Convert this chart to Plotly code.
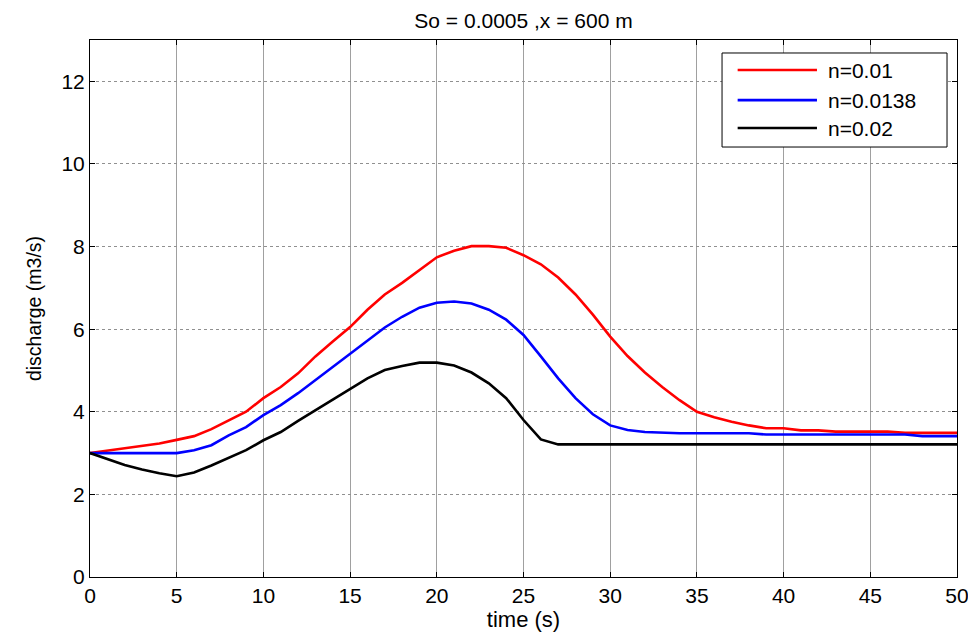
import plotly.graph_objects as go

time = list(range(0, 51))
q_n001 = [3.0, 3.06, 3.12, 3.18, 3.23, 3.32, 3.41, 3.58, 3.78, 4.0,
          4.33, 4.6, 4.93, 5.34, 5.7, 6.05, 6.47, 6.84, 7.12, 7.42,
          7.74, 7.9, 8.01, 8.01, 7.97, 7.79, 7.57, 7.25, 6.84, 6.35,
          5.82, 5.35, 4.95, 4.6, 4.28, 4.0, 3.87, 3.76, 3.67, 3.6,
          3.6, 3.55, 3.55, 3.52, 3.52, 3.52, 3.52, 3.49, 3.49, 3.49, 3.49]
q_n0138 = [3.0, 3.0, 3.0, 3.0, 3.0, 3.0, 3.07, 3.19, 3.43, 3.63,
           3.92, 4.16, 4.45, 4.77, 5.09, 5.42, 5.74, 6.04, 6.3, 6.52,
           6.64, 6.67, 6.62, 6.47, 6.23, 5.86, 5.34, 4.81, 4.33, 3.94,
           3.67, 3.56, 3.51, 3.49, 3.48, 3.48, 3.48, 3.48, 3.48, 3.45,
           3.45, 3.45, 3.45, 3.45, 3.45, 3.45, 3.45, 3.45, 3.41, 3.41, 3.41]
q_n002 = [3.0, 2.85, 2.71, 2.6, 2.51, 2.44, 2.53, 2.7, 2.88, 3.07,
          3.31, 3.51, 3.78, 4.04, 4.31, 4.57, 4.81, 5.01, 5.11, 5.19,
          5.19, 5.12, 4.95, 4.69, 4.33, 3.8, 3.33, 3.21, 3.21, 3.21,
          3.21, 3.21, 3.21, 3.21, 3.21, 3.21, 3.21, 3.21, 3.21, 3.21,
          3.21, 3.21, 3.21, 3.21, 3.21, 3.21, 3.21, 3.21, 3.21, 3.21, 3.21]

series_names = ["n=0.01", "n=0.0138", "n=0.02"]
series_colors = ["#ff0000", "#0000ff", "#000000"]
x_ticks = list(range(0, 51, 5))
y_ticks = list(range(0, 13, 2))

font = "Liberation Sans, Arial, sans-serif"
W, H = 968, 629

fig = go.Figure()
for name, vals, col in zip(series_names, [q_n001, q_n0138, q_n002], series_colors):
    fig.add_trace(go.Scatter(x=time, y=vals, mode="lines", name=name,
                             line=dict(color=col, width=2.6), showlegend=False))

# manual MATLAB-style legend box
leg_x0, leg_x1, leg_y0, leg_y1 = 0.729, 0.9885, 0.8007, 0.9758
row_y = [0.944, 0.888, 0.836]
fig.add_shape(type="rect", xref="paper", yref="paper",
              x0=leg_x0, x1=leg_x1, y0=leg_y0, y1=leg_y1,
              fillcolor="white", line=dict(color="black", width=1), layer="above")
for name, col, ry in zip(series_names, series_colors, row_y):
    fig.add_shape(type="line", xref="paper", yref="paper",
                  x0=0.747, x1=0.8385, y0=ry, y1=ry,
                  line=dict(color=col, width=2.6), layer="above")
    fig.add_annotation(xref="paper", yref="paper", x=0.849, y=ry,
                       xanchor="left", yanchor="middle", showarrow=False,
                       text=name, font=dict(size=21, family=font, color="black"))

fig.update_layout(
    width=W, height=H,
    margin=dict(l=82, r=19, t=32, b=60),
    paper_bgcolor="white", plot_bgcolor="white",
    font=dict(family=font, color="black", size=21),
    title=dict(text="So = 0.0005 ,x = 600 m", x=0.5, xanchor="center",
               xref="paper",
               y=1 - 13 / H, yanchor="middle", font=dict(size=21)),
    showlegend=False,
)
fig.update_xaxes(range=[0, 50], tickvals=x_ticks, showgrid=True,
                 gridcolor="#a0a0a0", gridwidth=1, automargin=False,
                 showline=True, linecolor="black", linewidth=1, mirror="ticks",
                 ticks="inside", ticklen=5, tickcolor="black", zeroline=False,
                 title=dict(text="time (s)", font=dict(size=22), standoff=4),
                 tickfont=dict(size=21))
fig.update_yaxes(range=[0, 13], tickvals=y_ticks, showgrid=True,
                 gridcolor="#909090", gridwidth=1, griddash="dot",
                 showline=True, linecolor="black", linewidth=1, mirror="ticks",
                 ticks="inside", ticklen=5, tickcolor="black", zeroline=False,
                 automargin=False,
                 title=dict(text="discharge (m3/s)", font=dict(size=19.5), standoff=14),
                 tickfont=dict(size=21))

fig.write_html("out.html")
